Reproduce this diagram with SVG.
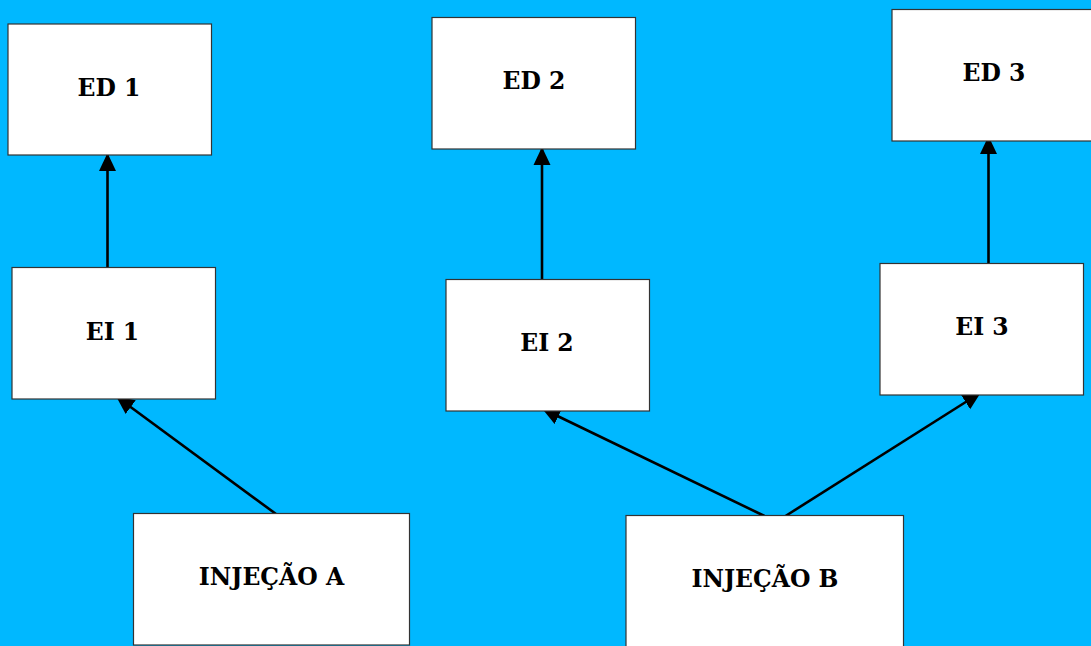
<svg xmlns="http://www.w3.org/2000/svg" width="1091" height="646" viewBox="0 0 1091 646">
  <style>
    .box { fill: #ffffff; stroke: #333333; stroke-width: 1.2; }
    .label { font-family: "DejaVu Serif", "Liberation Serif", serif; font-weight: 700; font-size: 23.5px; fill: #000000; text-anchor: middle; }
    .link { fill: none; stroke: #000000; stroke-width: 2.6; marker-end: url(#head); }
  </style>
  <defs>
    <!-- filled triangular arrowhead, sized in user units -->
    <marker id="head" markerUnits="userSpaceOnUse" markerWidth="19" markerHeight="19" refX="17" refY="9" orient="auto">
      <path d="M0,0.5 L18,9 L0,17.5 Z" fill="#000000"/>
    </marker>
  </defs>
  <rect width="1091" height="646" fill="#00B8FF"/>

  <g id="connectors">
    <line class="link" x1="107.5" y1="268" x2="107.5" y2="154"/>
    <line class="link" x1="542" y1="279" x2="542" y2="148"/>
    <line class="link" x1="988.5" y1="263" x2="988.5" y2="137"/>
    <line class="link" x1="276" y1="514" x2="117" y2="397"/>
    <line class="link" x1="764.5" y1="516" x2="543" y2="409"/>
    <line class="link" x1="785.5" y1="516" x2="980" y2="393"/>
  </g>

  <g id="ed1">
    <rect class="box" x="8" y="24" width="203.5" height="131"/>
    <text class="label" x="109" y="96">ED 1</text>
  </g>
  <g id="ed2">
    <rect class="box" x="432" y="17.5" width="203.5" height="131.5"/>
    <text class="label" x="534" y="88.5">ED 2</text>
  </g>
  <g id="ed3">
    <rect class="box" x="892" y="9.5" width="205" height="131.5"/>
    <text class="label" x="994" y="81">ED 3</text>
  </g>
  <g id="ei1">
    <rect class="box" x="12" y="267.5" width="203.5" height="131.5"/>
    <text class="label" x="112.5" y="339.5">EI 1</text>
  </g>
  <g id="ei2">
    <rect class="box" x="446" y="279.5" width="203.5" height="131.5"/>
    <text class="label" x="547" y="351">EI 2</text>
  </g>
  <g id="ei3">
    <rect class="box" x="880" y="263.5" width="203.5" height="131.5"/>
    <text class="label" x="982" y="335">EI 3</text>
  </g>
  <g id="injecao-a">
    <rect class="box" x="133.5" y="513.5" width="276" height="131.5"/>
    <text class="label" x="271.5" y="585">INJEÇÃO A</text>
  </g>
  <g id="injecao-b">
    <rect class="box" x="626" y="515.5" width="277.5" height="135"/>
    <text class="label" x="765" y="587">INJEÇÃO B</text>
  </g>
</svg>
